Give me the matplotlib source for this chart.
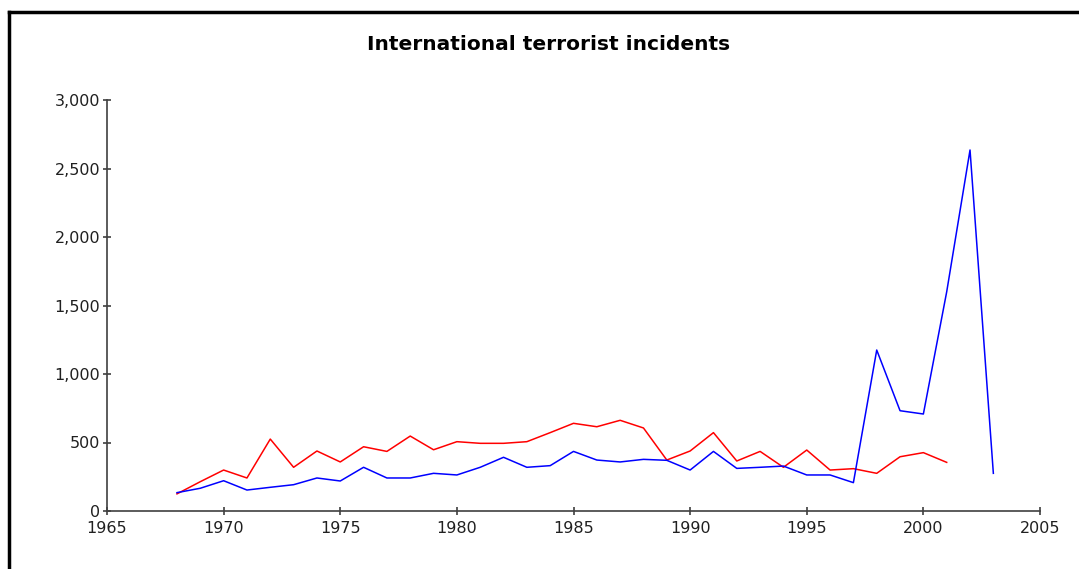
import numpy as np
import matplotlib
matplotlib.use("Agg")
import matplotlib.pyplot as plt
from matplotlib.lines import Line2D
from matplotlib.ticker import FuncFormatter

# values
years_blue = list(range(1968, 2004))
blue = [134, 166, 221, 153, 173, 192, 241, 219, 319, 241, 241, 275, 263, 319,
        392, 319, 331, 435, 372, 358, 377, 370, 299, 435, 311, 319, 328, 263,
        263, 207, 1175, 732, 708, 1600, 2635, 275]
years_red = list(range(1968, 2002))
red = [125, 214, 299, 241, 525, 319, 438, 358, 469, 435, 547, 447, 506, 494,
       494, 506, 572, 640, 615, 662, 606, 372, 438, 572, 365, 435, 319, 445,
       299, 309, 275, 396, 426, 355]
title = "International terrorist incidents"

plt.rcParams['font.family'] = ['DejaVu Sans']

fig = plt.figure(figsize=(10.79, 5.69), dpi=100)
W, H = 1079., 569.
ax = fig.add_axes([107/W, 58/H, (1040-107)/W, (511-100)/H])

ax.plot(years_red, red, color="#ff0000", lw=1.1)
ax.plot(years_blue, blue, color="#0000ff", lw=1.1)

ax.set_xlim(1965, 2005)
ax.set_ylim(0, 3000)
ax.set_xticks(range(1965, 2006, 5))
ax.set_yticks(range(0, 3001, 500))
ax.yaxis.set_major_formatter(FuncFormatter(lambda v, p: "{:,.0f}".format(v)))

for s in ["top", "right"]:
    ax.spines[s].set_visible(False)
for s in ["left", "bottom"]:
    ax.spines[s].set_color("#404040")
    ax.spines[s].set_linewidth(1.2)
ax.tick_params(direction="inout", length=6, width=1.2, color="#404040",
               labelsize=11.5, labelcolor="#202020")
ax.tick_params(axis="x", pad=4)
ax.tick_params(axis="y", pad=2)

fig.text(548.5/W, 1-45/H, title, ha="center", va="center",
         fontsize=14.5, fontweight="bold")

# outer frame (left and top edges only visible)
fig.add_artist(Line2D([9/W, 9/W], [0, 1-12/H], color="black", lw=2.5,
                      transform=fig.transFigure))
fig.add_artist(Line2D([9/W, 1], [1-12/H, 1-12/H], color="black", lw=2.5,
                      transform=fig.transFigure))

fig.savefig("out.png", dpi=100)
